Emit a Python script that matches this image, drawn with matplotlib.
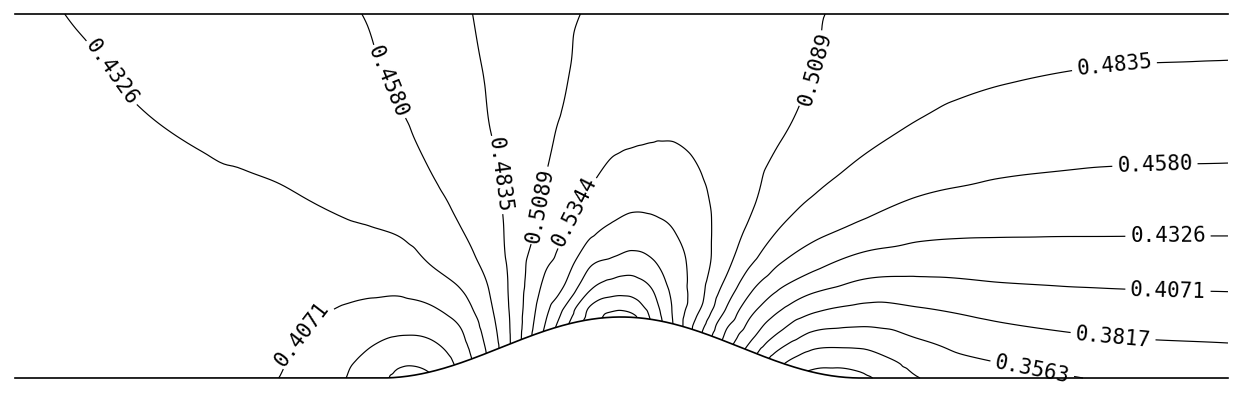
import numpy as np
import matplotlib
matplotlib.use("Agg")
import matplotlib.pyplot as plt
import matplotlib.tri as mtri

plt.rcParams['font.family'] = ['DejaVu Sans Mono', 'DejaVu Sans']

# ---- channel geometry (units: channel height) ----
channel_length = 3.3324
bump_center = 1.6648
bump_half_width = 0.6593
bump_height = 0.1676

# ---- contour levels ----
levels = [0.3054, 0.3308, 0.3563, 0.3817, 0.4071, 0.4326, 0.4580, 0.4835,
          0.5089, 0.5344, 0.5598, 0.5853, 0.6107, 0.6362, 0.6616]

# ---- sampled field: stations along the channel, fractions of local height ----
station_x = [0.0, 0.1786, 0.3709, 0.5632, 0.7280, 0.9478, 1.0577, 1.1401,
             1.2225, 1.3049, 1.3736, 1.4423, 1.5110, 1.5797, 1.6401, 1.6951,
             1.7500, 1.8132, 1.8819, 1.9505, 2.0192, 2.1016, 2.1978, 2.3214,
             2.4863, 2.7060, 2.9808, 3.3324]
height_fraction = [0.0, 0.04, 0.10, 0.18, 0.30, 0.45, 0.65, 0.83, 1.0]

# one row per station, bottom -> top
field_values = [
    [.4200, .4202, .4205, .4210, .4220, .4235, .4255, .4268, .4280],
    [.4190, .4195, .4202, .4213, .4232, .4255, .4277, .4300, .4340],
    [.4180, .4188, .4200, .4216, .4240, .4270, .4310, .4354, .4400],
    [.4130, .4145, .4165, .4195, .4232, .4285, .4343, .4401, .4459],
    [.4068, .4086, .4116, .4154, .4213, .4288, .4380, .4444, .4510],
    [.3750, .3789, .3873, .4019, .4177, .4348, .4480, .4540, .4577],
    [.3520, .3595, .3783, .3979, .4208, .4400, .4540, .4610, .4666],
    [.3570, .3674, .3838, .4052, .4326, .4500, .4625, .4680, .4735],
    [.3892, .3961, .4063, .4254, .4480, .4620, .4720, .4765, .4805],
    [.4395, .4440, .4510, .4590, .4700, .4770, .4832, .4857, .4877],
    [.4941, .4938, .4938, .4937, .4937, .4918, .4917, .4931, .4940],
    [.5529, .5471, .5390, .5298, .5150, .5073, .5035, .5012, .5002],
    [.6038, .5922, .5683, .5510, .5341, .5200, .5110, .5075, .5064],
    [.6459, .6377, .6085, .5829, .5528, .5325, .5190, .5135, .5101],
    [.6700, .6505, .6214, .5904, .5621, .5422, .5250, .5160, .5121],
    [.6680, .6472, .6240, .5966, .5676, .5456, .5270, .5180, .5133],
    [.6323, .6237, .6106, .5892, .5662, .5469, .5290, .5190, .5138],
    [.5802, .5790, .5768, .5712, .5595, .5451, .5300, .5200, .5141],
    [.5141, .5252, .5408, .5451, .5431, .5370, .5270, .5190, .5145],
    [.4511, .4620, .4852, .5064, .5225, .5270, .5220, .5160, .5140],
    [.3965, .4127, .4332, .4614, .4954, .5130, .5180, .5150, .5136],
    [.3368, .3570, .3868, .4203, .4632, .4929, .5100, .5113, .5130],
    [.3010, .3182, .3481, .3874, .4380, .4761, .4990, .5085, .5097],
    [.3010, .3119, .3394, .3722, .4180, .4618, .4880, .4985, .5063],
    [.3308, .3404, .3546, .3773, .4131, .4490, .4778, .4917, .5020],
    [.3429, .3560, .3696, .3879, .4152, .4440, .4693, .4857, .4980],
    [.3580, .3662, .3785, .3943, .4171, .4418, .4656, .4814, .4950],
    [.3643, .3715, .3824, .3969, .4181, .4411, .4642, .4799, .4940],
]

# label anchor points (x, y) in channel units
label_points = [
    (0.2555, 0.8324), (1.0247, 0.8132), (1.3214, 0.5577), (1.4341, 0.4753),
    (1.5577, 0.4478), (2.1896, 0.8516), (3.0192, 0.8681), (3.1319, 0.5797),
    (3.1676, 0.3846), (3.1676, 0.2418), (3.0165, 0.1126), (2.7940, 0.0220),
    (0.8324, 0.1044),
]


def wall(x):
    x = np.asarray(x, float)
    r = (x - bump_center) / bump_half_width
    return np.where(np.abs(r) < 1, bump_height * np.cos(np.pi * r / 2) ** 2, 0.0)


fig = plt.figure(figsize=(12.48, 4.04), dpi=100)
ax = fig.add_axes([0, 0, 1, 1])

sx = np.asarray(station_x)
hf = np.asarray(height_fraction)
Z = np.asarray(field_values)
XX, EE = np.meshgrid(sx, hf, indexing='ij')

tri_c = mtri.Triangulation(XX.ravel(), EE.ravel())
interp = mtri.CubicTriInterpolator(tri_c, Z.ravel(), kind='geom')
refiner = mtri.UniformTriRefiner(tri_c)
tri_r, z_r = refiner.refine_field(Z.ravel(), triinterpolator=interp, subdiv=4)

yb = wall(tri_r.x)
y_phys = yb + tri_r.y * (1.0 - yb)
tri_p = mtri.Triangulation(tri_r.x, y_phys, tri_r.triangles)

cs = ax.tricontour(tri_p, z_r, levels=levels, colors='black', linewidths=0.85)
labels = ax.clabel(cs, manual=label_points, inline=True, inline_spacing=6,
                   fontsize=15, fmt=lambda v: f"{v:.4f}")
for t in labels:
    t.set_fontfamily(['DejaVu Sans Mono', 'DejaVu Sans'])

xs = np.linspace(0, channel_length, 1200)
ax.plot(xs, wall(xs), color='black', lw=1.2)
ax.plot([0, channel_length], [1, 1], color='black', lw=1.2)

ax.set_xlim(-0.0412, 3.3874)
ax.set_ylim(-0.0714, 1.0385)
ax.axis('off')

fig.savefig('out.png', dpi=100)
